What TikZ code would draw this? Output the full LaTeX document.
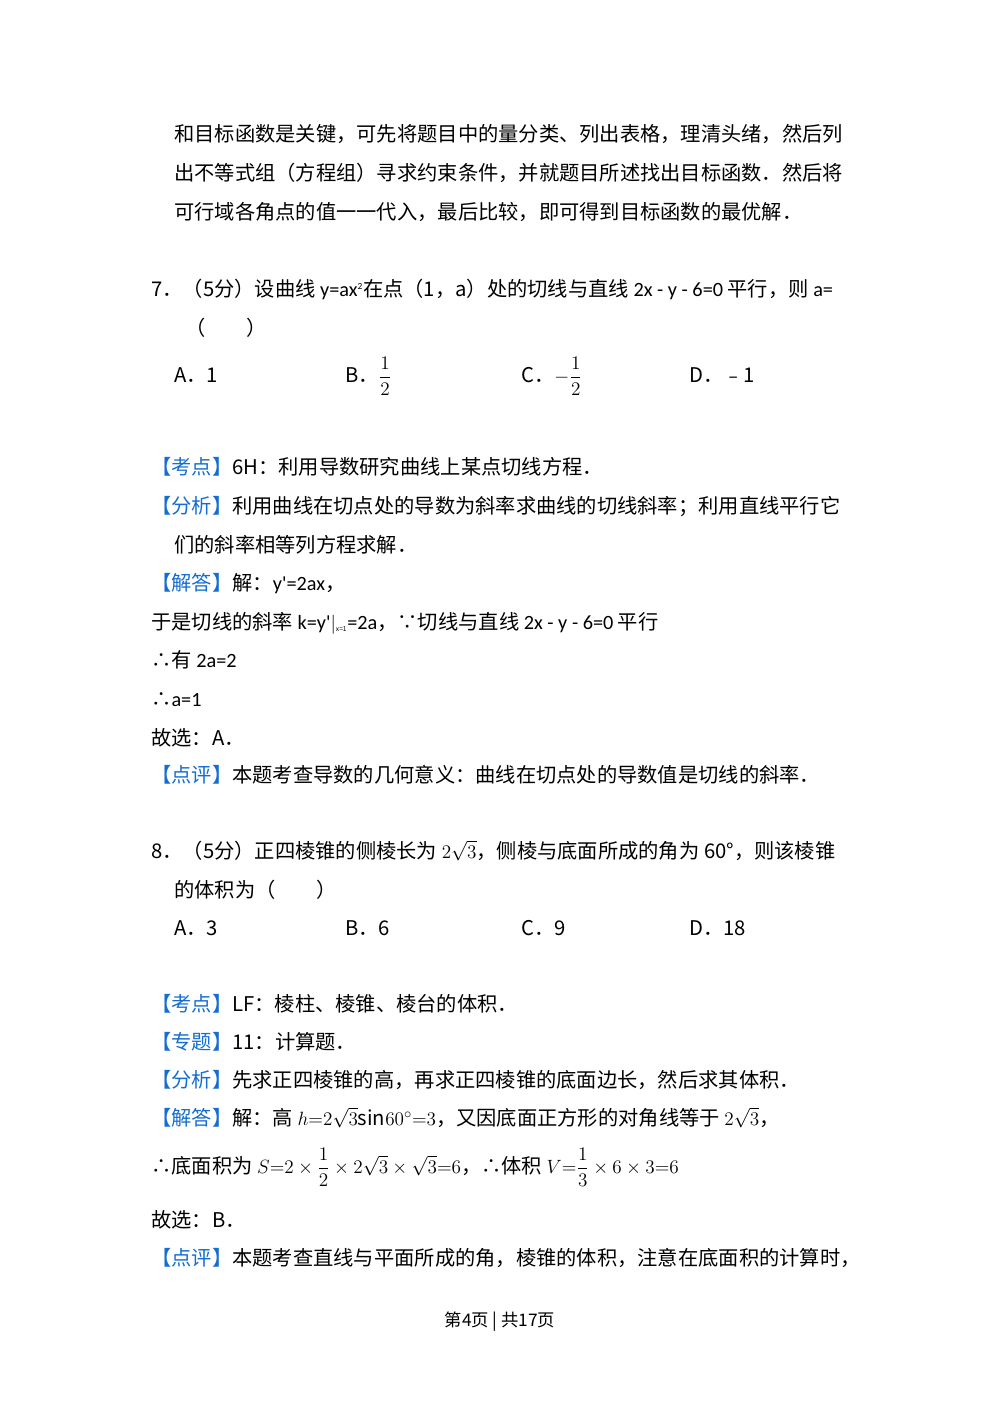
\documentclass[tikz,border=0pt]{standalone}
\usepackage{amsmath}
\usepackage{fontspec}
\setmainfont{Noto Sans CJK SC}
\newfontfamily\latf{Carlito}
\definecolor{kblue}{RGB}{20,110,210}
\begin{document}
\begin{tikzpicture}[x=0.75pt,y=-0.75pt,
  t/.style={anchor=base west,inner sep=0pt,font=\fontsize{15.2}{18}\selectfont},
  tag/.style={text=kblue}]
\useasboundingbox[fill=white] (0,0) rectangle (1000,1414);
\newcommand{\kt}[1]{\textcolor{kblue}{【#1】}}
\node[t] (l1) at (174,141) {和目标函数是关键，可先将题目中的量分类、列出表格，理清头绪，然后列};
\node[t] (l2) at (174,180) {出不等式组（方程组）寻求约束条件，并就题目所述找出目标函数．然后将};
\node[t] (l3) at (174,219) {可行域各角点的值一一代入，最后比较，即可得到目标函数的最优解．};
\node[t] (q7) at (151,296) {7．（5分）设曲线 {\latf y=ax\textsuperscript{\scriptsize 2}}在点（1，a）处的切线与直线 {\latf 2x - y - 6=0} 平行，则 {\latf a=}};
\node[t] (q7b) at (185,335) {（　　）};
\node[t] (a7) at (174,382) {A．1};
\node[t] (b7) at (345,382) {B．$\dfrac{1}{2}$};
\node[t] (c7) at (521,382) {C．$-\dfrac{1}{2}$};
\node[t] (d7) at (689,382) {D．﹣1};
\node[t] (k7) at (151,474) {\kt{考点}6H：利用导数研究曲线上某点切线方程．};
\node[t] (f7) at (151,513) {\kt{分析}利用曲线在切点处的导数为斜率求曲线的切线斜率；利用直线平行它};
\node[t] (f7b) at (174,552) {们的斜率相等列方程求解．};
\node[t] (j7) at (151,590) {\kt{解答}解：{\latf y'=2ax}，};
\node[t] (j7b) at (151,629) {于是切线的斜率 {\latf k=y'}$|$\textsubscript{\tiny x=1}{\latf =2a}，∵切线与直线 {\latf 2x - y - 6=0} 平行};
\node[t] (j7c) at (151,667) {∴有 {\latf 2a=2}};
\node[t] (j7d) at (151,706) {∴{\latf a=1}};
\node[t] (j7e) at (151,745) {故选：A．};
\node[t] (p7) at (151,782) {\kt{点评}本题考查导数的几何意义：曲线在切点处的导数值是切线的斜率．};
\node[t] (q8) at (151,858) {8．（5分）正四棱锥的侧棱长为 $2\sqrt{3}$，侧棱与底面所成的角为 60°，则该棱锥};
\node[t] (q8b) at (174,897) {的体积为（　　）};
\node[t] (a8) at (174,935) {A．3};
\node[t] (b8) at (345,935) {B．6};
\node[t] (c8) at (521,935) {C．9};
\node[t] (d8) at (689,935) {D．18};
\node[t] (k8) at (151,1011) {\kt{考点}LF：棱柱、棱锥、棱台的体积．};
\node[t] (z8) at (151,1049) {\kt{专题}11：计算题．};
\node[t] (f8) at (151,1087) {\kt{分析}先求正四棱锥的高，再求正四棱锥的底面边长，然后求其体积．};
\node[t] (j8) at (151,1125) {\kt{解答}解：高 $h{=}2\sqrt{3}\mathrm{sin}60^\circ{=}3$，又因底面正方形的对角线等于 $2\sqrt{3}$，};
\node[t] (j8b) at (151,1173) {∴底面积为 $S{=}2\times\dfrac{1}{2}\times2\sqrt{3}\times\sqrt{3}{=}6$，∴体积 $V{=}\dfrac{1}{3}\times6\times3{=}6$};
\node[t] (j8c) at (151,1227) {故选：B．};
\node[t] (p8) at (151,1265) {\kt{点评}本题考查直线与平面所成的角，棱锥的体积，注意在底面积的计算时，};
\node[anchor=base,inner sep=0pt,font=\fontsize{13}{15}\selectfont] (pg) at (500,1326) {第4页 | 共17页};
\end{tikzpicture}
\end{document}
